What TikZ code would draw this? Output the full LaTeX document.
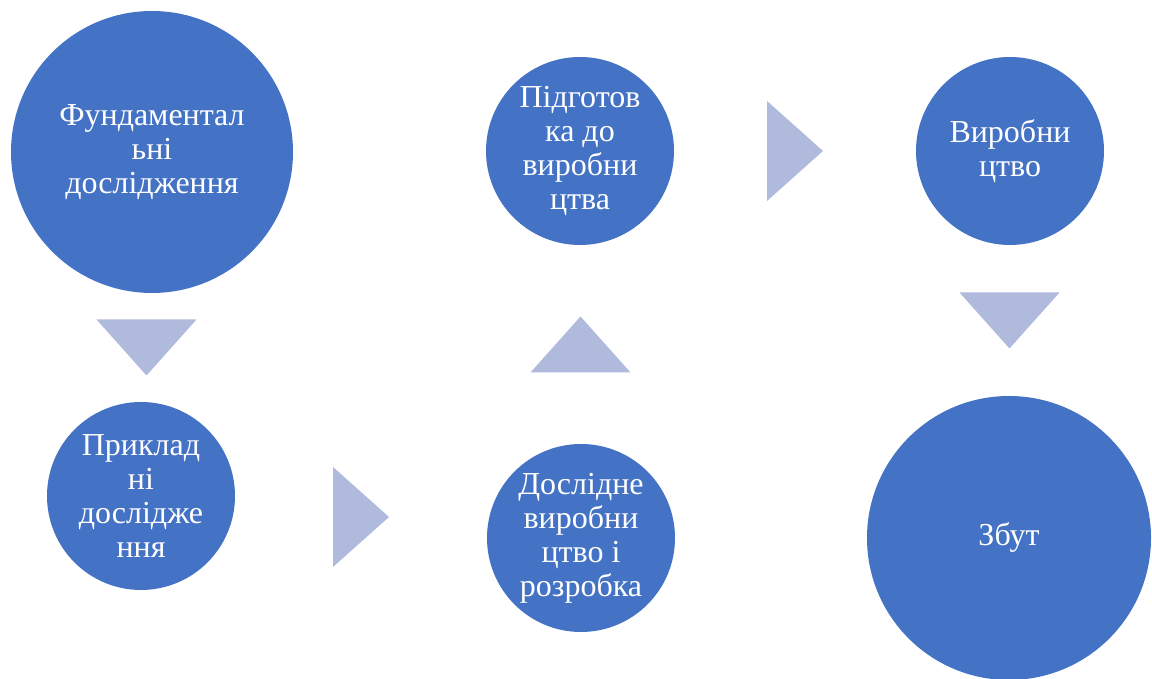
\documentclass[tikz,border=0pt]{standalone}
\usepackage{fontspec}
\setmainfont{Liberation Serif}
\usepackage{xcolor}
\definecolor{stageblue}{HTML}{4472C4}
\definecolor{arrowblue}{HTML}{AFBADD}
\usepackage{tikz}
\usetikzlibrary{positioning, calc}

\tikzset{
  stage/.style={circle, fill=stageblue, text=white, inner sep=0pt, align=center,
    font=\fontsize{32}{34}\selectfont},
  flowtri/.pic={\fill[arrowblue] (-28,-50) -- (28,0) -- (-28,50) -- cycle;}
}

\begin{document}
\begin{tikzpicture}[x=1pt, y=1pt]
  \useasboundingbox (0,0) rectangle (1152,679);

  % --- stages ---
  \node[stage, minimum size=282pt] (fund) at (152,527) {Фундаментал\\ьні\\дослідження};
  \node[stage, minimum size=188pt] (prikl) at (141,183) {Приклад\\ні\\дослідже\\ння};
  \node[stage, minimum size=188pt] (dosl) at (581,141) {Дослідне\\виробни\\цтво і\\розробка};
  \node[stage, minimum size=188pt] (pidg) at (580,528) {Підготов\\ка до\\виробни\\цтва};
  \node[stage, minimum size=188pt] (vyrob) at (1010,528) {Виробни\\цтво};
  \node[stage, minimum size=284pt] (zbut) at (1009,141) {Збут};

  % --- arrows between stages ---
  \pic[rotate=-90] at ($(fund.south)!0.5!(prikl.north)$) {flowtri};
  \pic at ($(prikl.east)!0.5!(dosl.west)$) {flowtri};
  \pic[rotate=90] at ($(dosl.north)!0.5!(pidg.south)$) {flowtri};
  \pic at ($(pidg.east)!0.5!(vyrob.west)$) {flowtri};
  \pic[rotate=-90] at ($(vyrob.south)!0.5!(zbut.north)$) {flowtri};
\end{tikzpicture}
\end{document}
